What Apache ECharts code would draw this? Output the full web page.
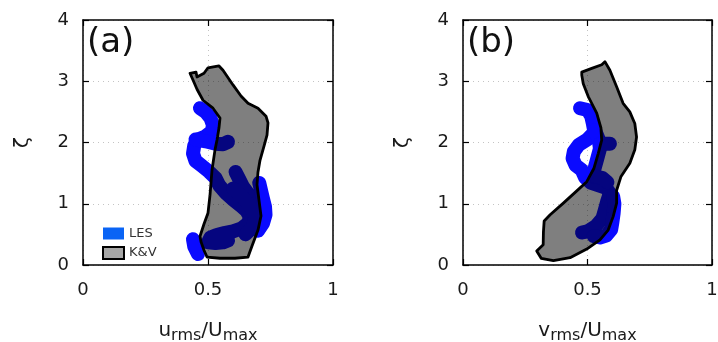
<!DOCTYPE html>
<html>
<head>
<meta charset="utf-8">
<title>LES vs K&V</title>
<script src="https://cdn.jsdelivr.net/npm/echarts@6/dist/echarts.min.js"></script>
<style>
html, body { margin: 0; padding: 0; background: #fff; }
#main { width: 718px; height: 342px; }
</style>
</head>
<body>
<div id="main"></div>
<script>
// axis ticks
var xTicks = [0, 0.5, 1];
var yTicks = [0, 1, 2, 3, 4];

// K&V envelope, panel (a)  [u_rms/U_max, zeta]
var kvA = [
  [0.428, 3.13], [0.452, 3.15], [0.456, 3.07], [0.484, 3.13], [0.500, 3.22], [0.516, 3.23],
  [0.544, 3.25], [0.560, 3.18], [0.600, 2.94], [0.632, 2.76], [0.660, 2.64], [0.700, 2.56],
  [0.732, 2.43], [0.740, 2.32], [0.736, 2.12], [0.724, 1.94], [0.708, 1.71], [0.700, 1.52],
  [0.696, 1.31], [0.704, 1.06], [0.712, 0.80], [0.700, 0.57], [0.676, 0.31], [0.660, 0.13],
  [0.608, 0.11], [0.548, 0.11], [0.496, 0.13], [0.484, 0.24], [0.472, 0.38], [0.468, 0.47],
  [0.484, 0.67], [0.500, 0.85], [0.508, 1.14], [0.516, 1.55], [0.528, 1.88], [0.536, 2.04],
  [0.544, 2.24], [0.548, 2.40], [0.520, 2.56], [0.480, 2.69], [0.456, 2.87], [0.440, 3.02]
];

// K&V envelope, panel (b)  [v_rms/U_max, zeta]
var kvB = [
  [0.477, 3.15], [0.517, 3.21], [0.557, 3.27], [0.570, 3.32], [0.590, 3.18], [0.617, 2.91],
  [0.643, 2.64], [0.670, 2.50], [0.690, 2.31], [0.697, 2.09], [0.690, 1.88], [0.670, 1.66],
  [0.634, 1.44], [0.617, 1.22], [0.617, 1.01], [0.603, 0.79], [0.583, 0.57], [0.550, 0.41],
  [0.497, 0.26], [0.430, 0.12], [0.363, 0.07], [0.314, 0.11], [0.296, 0.23], [0.322, 0.33],
  [0.323, 0.54], [0.326, 0.72], [0.350, 0.82], [0.403, 1.01], [0.457, 1.21], [0.497, 1.36],
  [0.526, 1.58], [0.543, 1.82], [0.557, 2.04], [0.554, 2.24], [0.537, 2.48], [0.503, 2.75],
  [0.483, 2.96], [0.477, 3.10]
];

// LES traces, panel (a)
var lesA1 = [
  [0.468, 2.56], [0.490, 2.50], [0.510, 2.40], [0.520, 2.28], [0.515, 2.18], [0.490, 2.10],
  [0.460, 2.05], [0.445, 1.95], [0.440, 1.82], [0.450, 1.70], [0.475, 1.62], [0.505, 1.52],
  [0.530, 1.42], [0.545, 1.30], [0.570, 1.18], [0.600, 1.07], [0.630, 0.97], [0.655, 0.88],
  [0.668, 0.78], [0.660, 0.68], [0.635, 0.60], [0.600, 0.55], [0.565, 0.52], [0.535, 0.49],
  [0.510, 0.45], [0.500, 0.37], [0.530, 0.36], [0.560, 0.37], [0.580, 0.40]
];
var lesA2 = [[0.450, 2.05], [0.490, 2.02], [0.530, 1.98], [0.560, 1.97], [0.580, 2.01]];
var lesA3 = [[0.610, 1.52], [0.625, 1.40], [0.640, 1.28], [0.660, 1.17], [0.685, 1.05], [0.700, 0.95]];
var lesA4 = [[0.705, 1.34], [0.712, 1.22], [0.720, 1.08], [0.728, 0.95], [0.730, 0.82], [0.720, 0.68], [0.700, 0.56]];
var lesA5 = [[0.440, 0.42], [0.445, 0.30], [0.460, 0.18]];
var lesA6 = [[0.600, 1.25], [0.640, 1.10], [0.670, 0.95], [0.690, 0.80], [0.680, 0.62], [0.650, 0.50]];

// LES traces, panel (b)
var lesB1 = [
  [0.470, 2.56], [0.500, 2.53], [0.515, 2.43], [0.522, 2.30], [0.528, 2.17], [0.500, 2.05],
  [0.465, 1.96], [0.445, 1.85], [0.440, 1.74], [0.452, 1.63], [0.477, 1.55], [0.490, 1.43],
  [0.515, 1.34], [0.545, 1.30], [0.575, 1.26], [0.590, 1.17], [0.580, 1.05], [0.570, 0.90],
  [0.560, 0.76], [0.535, 0.64], [0.500, 0.55], [0.478, 0.53]
];
var lesB2 = [[0.530, 2.20], [0.545, 2.05], [0.550, 1.90], [0.540, 1.75], [0.530, 1.60], [0.520, 1.45]];
var lesB3 = [[0.550, 1.98], [0.590, 1.98]];
var lesB4 = [[0.530, 1.45], [0.560, 1.42], [0.580, 1.35]];
var lesB5 = [[0.603, 1.12], [0.608, 1.00], [0.605, 0.85], [0.600, 0.70], [0.595, 0.58], [0.575, 0.48], [0.550, 0.45], [0.525, 0.47]];

var FONT = 'DejaVu Sans';
var LES_COLOR = '#0a0aff';

var chart = echarts.init(document.getElementById('main'), null, { renderer: 'canvas' });

function xAx(gridIndex, nameMain, posTop) {
  var ax = {
    type: 'value', gridIndex: gridIndex, min: xTicks[0], max: xTicks[xTicks.length - 1], interval: 0.5,
    position: posTop ? 'top' : 'bottom',
    axisLine: { show: true, onZero: false, lineStyle: { color: '#000', width: 1.5 } },
    axisTick: { show: true, inside: true, length: 6, lineStyle: { color: '#000', width: 1.2 } },
    axisLabel: { show: !posTop, fontFamily: FONT, fontSize: 18, color: '#1a1a1a', margin: 16,
      formatter: function (v) { return String(v); } },
    splitLine: { show: !posTop, lineStyle: { color: '#c4c4c4', type: [1, 4], width: 1 } }
  };
  if (!posTop) {
    ax.name = '{a|' + nameMain + '}{s|rms}{a|/U}{s|max}';
    ax.nameLocation = 'middle';
    ax.nameGap = 56;
    ax.nameTextStyle = {
      rich: {
        a: { fontFamily: FONT, fontSize: 20, color: '#1a1a1a', lineHeight: 20 },
        s: { fontFamily: FONT, fontSize: 16, color: '#1a1a1a', lineHeight: 20, padding: [10, 0, 0, 0] }
      }
    };
  }
  return ax;
}

function yAx(gridIndex, posRight) {
  var ax = {
    type: 'value', gridIndex: gridIndex, min: yTicks[0], max: yTicks[yTicks.length - 1], interval: 1,
    position: posRight ? 'right' : 'left',
    axisLine: { show: true, onZero: false, lineStyle: { color: '#000', width: 1.5 } },
    axisTick: { show: true, inside: true, length: 6, lineStyle: { color: '#000', width: 1.2 } },
    axisLabel: { show: !posRight, fontFamily: FONT, fontSize: 18, color: '#1a1a1a', margin: 14 },
    splitLine: { show: !posRight, lineStyle: { color: '#c4c4c4', type: [1, 4], width: 1 } }
  };
  if (!posRight) {
    ax.name = 'ζ';
    ax.nameLocation = 'middle';
    ax.nameRotate = 90;
    ax.nameGap = 50;
    ax.nameTextStyle = { fontFamily: FONT, fontSize: 20, color: '#1a1a1a' };
  }
  return ax;
}

function polyRender(pts) {
  return function (params, api) {
    if (params.dataIndex !== 0) return;
    var p = pts.map(function (d) { return api.coord(d); });
    return {
      type: 'polygon',
      shape: { points: p },
      z2: 10,
      style: { fill: 'rgba(0,0,0,0.5)', stroke: '#000', lineWidth: 2.8, lineJoin: 'round' }
    };
  };
}

function lesSeries(data, idx) {
  return {
    name: 'LES', type: 'line', xAxisIndex: idx, yAxisIndex: idx, data: data,
    z: 2, showSymbol: false, smooth: false,
    lineStyle: { color: LES_COLOR, width: 14, cap: 'round', join: 'round' },
    itemStyle: { color: LES_COLOR }
  };
}

function kvSeries(data, idx) {
  return {
    name: 'K&V', type: 'custom', xAxisIndex: idx, yAxisIndex: idx, data: data,
    z: 5, encode: { x: 0, y: 1 },
    itemStyle: { color: '#a6a6a6', borderColor: '#000', borderWidth: 2 },
    renderItem: polyRender(data)
  };
}

var series = [];
[lesA1, lesA2, lesA3, lesA4, lesA5, lesA6].forEach(function (d) { series.push(lesSeries(d, 0)); });
series.push(kvSeries(kvA, 0));
[lesB1, lesB2, lesB3, lesB4, lesB5].forEach(function (d) { series.push(lesSeries(d, 2)); });
series.push(kvSeries(kvB, 2));

var option = {
  animation: false,
  grid: [
    { left: 83, top: 20, width: 250, height: 245, outerBoundsMode: 'none' },
    { left: 463, top: 20, width: 249, height: 245, outerBoundsMode: 'none' }
  ],
  xAxis: [xAx(0, 'u', false), xAx(0, 'u', true), xAx(1, 'v', false), xAx(1, 'v', true)],
  yAxis: [yAx(0, false), yAx(0, true), yAx(1, false), yAx(1, true)],
  legend: {
    orient: 'vertical', left: 97, top: 222, itemWidth: 21, itemHeight: 12, itemGap: 6,
    selectedMode: false,
    textStyle: { fontFamily: FONT, fontSize: 13, color: '#333' },
    data: [
      { name: 'LES', icon: 'rect', itemStyle: { color: '#0a64f5' } },
      { name: 'K&V', icon: 'rect', itemStyle: { color: '#a6a6a6', borderColor: '#000', borderWidth: 2 } }
    ]
  },
  graphic: [
    { type: 'text', left: 87, top: 26, style: { text: '(a)', fontFamily: FONT, fontSize: 34, fill: '#111' } },
    { type: 'text', left: 467, top: 26, style: { text: '(b)', fontFamily: FONT, fontSize: 34, fill: '#111' } }
  ],
  series: series
};

// second grid's axes are index 2 and 3
option.xAxis[2].gridIndex = 1; option.xAxis[3].gridIndex = 1;
option.yAxis[2].gridIndex = 1; option.yAxis[3].gridIndex = 1;

chart.setOption(option);
</script>
</body>
</html>
